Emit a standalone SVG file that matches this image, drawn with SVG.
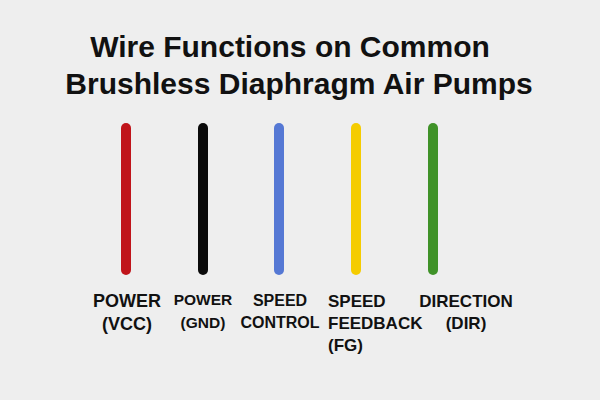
<svg xmlns="http://www.w3.org/2000/svg" width="600" height="400" viewBox="0 0 600 400">
<style>
.t{font-family:"Liberation Sans",Arial,sans-serif;font-weight:bold;fill:#111;}
.title{font-size:30px;}
.lb{font-family:"Liberation Sans",Arial,sans-serif;font-weight:bold;font-size:17px;fill:#111;}
.w{stroke-width:10;stroke-linecap:round;fill:none;}
</style>
<rect width="600" height="400" fill="#eeeeee"/>
<g id="title">
<text class="t title" x="290" y="57" text-anchor="middle">Wire Functions on Common</text>
<text class="t title" x="299" y="94" text-anchor="middle">Brushless Diaphragm Air Pumps</text>
</g>
<g id="connectors">
<line class="w" x1="126" y1="128" x2="126" y2="270" stroke="#c0141a"/>
<line class="w" x1="203" y1="128" x2="203" y2="270" stroke="#0a0a0a"/>
<line class="w" x1="279" y1="128" x2="279" y2="270" stroke="#5578d4"/>
<line class="w" x1="356" y1="128" x2="356" y2="270" stroke="#f5cc00"/>
<line class="w" x1="433" y1="128" x2="433" y2="270" stroke="#3f9228"/>
</g>
<g id="vcc">
<text class="lb" x="127" y="307" text-anchor="middle" style="font-size:18px">POWER</text>
<text class="lb" x="127" y="330" text-anchor="middle" style="font-size:18px">(VCC)</text>
</g>
<g id="gnd">
<text class="lb" x="203" y="305" text-anchor="middle" style="font-size:15.5px">POWER</text>
<text class="lb" x="203" y="328" text-anchor="middle" style="font-size:15.5px">(GND)</text>
</g>
<g id="speed">
<text class="lb" x="280" y="306" text-anchor="middle" style="font-size:16px">SPEED</text>
<text class="lb" x="280" y="328" text-anchor="middle" style="font-size:16px">CONTROL</text>
</g>
<g id="fg">
<text class="lb" x="328" y="307">SPEED</text>
<text class="lb" x="328" y="329">FEEDBACK</text>
<text class="lb" x="328" y="351">(FG)</text>
</g>
<g id="dir">
<text class="lb" x="466" y="307" text-anchor="middle">DIRECTION</text>
<text class="lb" x="466" y="329" text-anchor="middle">(DIR)</text>
</g>
</svg>
